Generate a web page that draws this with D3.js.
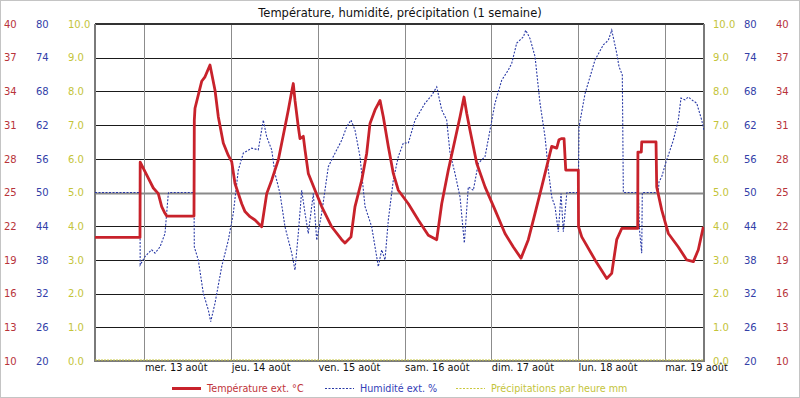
<!DOCTYPE html>
<html>
<head>
<meta charset="utf-8">
<script src="https://cdn.jsdelivr.net/npm/d3@7"></script>
<style>
  body { margin: 0; background: #fff; }
  svg { display: block; font-family: "DejaVu Sans", sans-serif; }
</style>
</head>
<body>
<div id="chart"></div>
<script>
// hours counted from mer. 13 août 00:00
const tempHours = [-13.70, -1.25, -1.19, 0.14, 2.44, 3.82, 4.76, 5.67, 6.15, 13.70, 13.79, 13.98, 15.83, 16.75, 18.13,
  19.52, 20.43, 21.81, 23.20, 24.14, 25.05, 26.91, 27.82, 29.20, 30.59, 32.44, 33.83, 35.21, 37.04, 38.89,
  39.81, 40.75, 41.19, 41.66, 42.57, 43.04, 43.96, 44.43, 45.34, 47.20, 49.05, 51.82, 54.59, 55.50, 57.16,
  58.27, 60.13, 61.51, 62.42, 63.81, 65.19, 66.10, 67.49, 68.87, 70.26, 73.03, 75.79, 78.56, 80.89, 82.27,
  84.10, 85.95, 87.34, 88.44, 89.19, 90.10, 91.96, 94.26, 97.02, 99.79, 102.09, 104.22, 106.24, 108.10, 109.95,
  112.25, 112.72, 114.10, 114.74, 115.49, 116.13, 116.60, 120.08, 120.14, 121.03, 124.71, 127.95, 129.33, 130.71, 132.10,
  136.52, 136.58, 137.52, 137.63, 141.59, 141.78, 143.16, 145.00, 147.76, 150.09, 151.92, 153.30, 154.69];
const tempValues = [21.0, 21.0, 27.7, 26.85, 25.4, 24.9, 23.75, 23.15, 22.9, 22.9, 31.45, 32.5, 34.9, 35.3, 36.35,
  34.1, 31.75, 29.4, 28.3, 27.75, 25.8, 24.0, 23.3, 22.85, 22.55, 21.95, 24.9, 26.1, 27.9, 30.85,
  32.35, 34.0, 34.7, 33.2, 30.85, 29.8, 30.0, 28.8, 26.7, 25.2, 23.75, 21.95, 20.8, 20.5, 21.05,
  23.75, 26.1, 28.5, 31.15, 32.35, 33.2, 31.75, 29.1, 26.7, 25.2, 24.0, 22.55, 21.2, 20.8, 24.0,
  27.0, 29.7, 31.75, 33.5, 32.05, 30.55, 27.6, 25.5, 23.45, 21.35, 20.15, 19.15, 20.8, 23.15, 25.5,
  28.5, 29.1, 28.95, 29.7, 29.8, 29.8, 27.0, 27.0, 21.95, 21.05, 19.0, 17.35, 17.8, 20.8, 21.8,
  21.8, 28.6, 28.6, 29.5, 29.5, 25.5, 23.45, 21.35, 20.15, 19.0, 18.85, 19.9, 21.95];

const humHours = [-13.70, -1.25, -1.19, 0.14, 1.99, 2.91, 4.29, 5.67, 6.59, 6.67, 13.70, 13.79, 14.89, 16.28, 17.66,
  18.33, 19.52, 21.37, 23.20, 24.58, 25.97, 27.35, 29.67, 31.50, 32.89, 33.83, 35.21, 36.12, 37.51, 38.89,
  40.75, 41.66, 42.57, 43.52, 44.43, 45.34, 46.73, 47.67, 49.05, 50.88, 52.73, 54.59, 55.97, 57.16, 58.27,
  59.65, 61.04, 62.89, 64.72, 65.66, 66.57, 67.49, 68.87, 70.26, 71.64, 73.03, 74.88, 77.65, 79.50, 80.89,
  82.27, 83.65, 84.57, 85.95, 87.34, 88.53, 89.63, 91.02, 92.40, 94.26, 95.64, 97.02, 98.88, 100.71, 101.65,
  103.03, 104.86, 105.52, 106.72, 108.10, 109.48, 110.87, 111.78, 112.72, 113.63, 114.55, 115.30, 115.93, 116.88, 116.96,
  120.08, 120.28, 121.94, 124.71, 127.01, 128.39, 129.33, 130.71, 131.35, 132.26, 132.54, 136.69, 137.02, 137.63, 137.79,
  142.22, 142.42, 143.16, 144.54, 146.38, 147.76, 148.50, 149.61, 150.53, 151.47, 152.85, 154.23, 154.87];
const humValues = [50, 50, 37.1, 38.6, 39.8, 39.2, 40.3, 42.7, 49.8, 50, 50, 40.3, 38.0, 32.05, 29.1,
  27.0, 30.3, 36.8, 41.5, 46.3, 54.0, 57.0, 57.9, 57.6, 62.9, 59.9, 57.6, 53.4, 49.8, 43.9,
  39.2, 36.2, 42.7, 50.4, 46.3, 42.7, 49.8, 41.5, 46.3, 54.6, 57.0, 59.3, 61.7, 62.9, 61.1,
  56.4, 47.5, 43.9, 36.8, 39.8, 38.0, 45.1, 52.2, 56.4, 58.8, 58.8, 62.9, 65.9, 67.3, 68.8,
  64.7, 62.9, 57.0, 53.4, 49.2, 41.0, 51.0, 50.4, 55.2, 56.4, 61.1, 65.9, 70.0, 71.8, 73.0,
  76.6, 77.7, 78.9, 77.4, 74.2, 65.9, 59.9, 54.0, 49.2, 47.5, 43.0, 49.8, 43.0, 49.8, 50,
  50, 61.7, 67.6, 73.6, 76.3, 77.1, 78.9, 74.8, 72.4, 70.9, 50, 50, 43.3, 39.2, 50,
  50, 51.9, 52.8, 55.8, 59.3, 62.9, 66.8, 66.5, 67.0, 66.5, 65.9, 62.9, 61.1];

const precipHours = [-13.70, 154.87];
const precipValues = [0, 0];

const dayLabels = ["mer. 13 août", "jeu. 14 août", "ven. 15 août", "sam. 16 août", "dim. 17 août", "lun. 18 août", "mar. 19 août"];
const tempTicks = [10, 13, 16, 19, 22, 25, 28, 31, 34, 37, 40];
const humTicks = [20, 26, 32, 38, 44, 50, 56, 62, 68, 74, 80];
const precipTicks = [0, 1, 2, 3, 4, 5, 6, 7, 8, 9, 10];

const legendItems = ["Température ext. °C", "Humidité ext. %", "Précipitations par heure mm"];

const width = 800, height = 398;
const plot = { left: 95, right: 704, top: 24, bottom: 361 };
const red = "#c8222b", blue = "#2a3aa6", yellow = "#c9c83c";

const t0 = new Date(2014, 7, 13, 0, 0);
const toDate = h => new Date(t0.getTime() + h * 3600e3);

const svg = d3.select("#chart").append("svg")
  .attr("width", width)
  .attr("height", height);

svg.append("rect")
  .attr("x", 0.5).attr("y", 0.5)
  .attr("width", width - 1).attr("height", height - 1)
  .attr("fill", "#fff").attr("stroke", "#c4c4c4");

// scales
const x = d3.scaleTime()
  .domain([toDate(-13.70), toDate(154.87)])
  .range([plot.left, plot.right]);
const yTemp = d3.scaleLinear().domain([10, 40]).range([plot.bottom, plot.top]);
const yHum = d3.scaleLinear().domain([20, 80]).range([plot.bottom, plot.top]);
const yPrecip = d3.scaleLinear().domain([0, 10]).range([plot.bottom, plot.top]);

// title
svg.append("text")
  .attr("x", 400).attr("y", 17)
  .attr("text-anchor", "middle")
  .attr("font-size", 11.5)
  .attr("fill", "#111")
  .text("Température, humidité, précipitation (1 semaine)");

// horizontal grid
svg.append("g").selectAll("line")
  .data(precipTicks)
  .join("line")
  .attr("x1", plot.left).attr("x2", plot.right)
  .attr("y1", d => Math.round(yPrecip(d)) + 0.5)
  .attr("y2", d => Math.round(yPrecip(d)) + 0.5)
  .attr("stroke", d => d === 5 ? "#8a8a8a" : "#1a1a1a")
  .attr("stroke-width", d => d === 5 ? 2 : 1);

// day lines
const days = dayLabels.map((d, i) => toDate(24 * i));
svg.append("g").selectAll("line")
  .data(days)
  .join("line")
  .attr("x1", d => Math.round(x(d)) + 0.5).attr("x2", d => Math.round(x(d)) + 0.5)
  .attr("y1", plot.top).attr("y2", plot.bottom)
  .attr("stroke", "#8c8c8c")
  .attr("stroke-width", 1);

// frame
svg.append("line")
  .attr("x1", plot.left).attr("x2", plot.right)
  .attr("y1", plot.top).attr("y2", plot.top)
  .attr("stroke", "#333").attr("stroke-width", 2);
svg.append("path")
  .attr("d", `M${plot.left},${plot.top}V${plot.bottom}H${plot.right}V${plot.top}`)
  .attr("fill", "none")
  .attr("stroke", "#7a7a7a")
  .attr("stroke-width", 2);

// x axis labels
const xAxis = d3.axisBottom(x)
  .tickValues(days)
  .tickSize(0)
  .tickPadding(0)
  .tickFormat((d, i) => dayLabels[i]);
const gx = svg.append("g")
  .attr("transform", `translate(0,${plot.bottom + 3})`)
  .call(xAxis);
gx.select(".domain").remove();
gx.selectAll("text")
  .attr("text-anchor", "start")
  .attr("dy", "0.71em")
  .attr("font-size", 9.8)
  .attr("font-family", "DejaVu Sans, sans-serif")
  .attr("fill", "#111");

// y axis label columns
function yColumn(scale, ticks, fmt, xpos, color) {
  const g = svg.append("g")
    .attr("transform", `translate(${xpos},0)`)
    .call(d3.axisRight(scale).tickValues(ticks).tickFormat(fmt).tickSize(0).tickPadding(0));
  g.select(".domain").remove();
  g.selectAll("text")
    .attr("font-size", 10)
    .attr("font-family", "DejaVu Sans, sans-serif")
    .attr("fill", color);
}
yColumn(yTemp, tempTicks, d3.format("d"), 4, "#b8333a");
yColumn(yHum, humTicks, d3.format("d"), 36, "#3340a8");
yColumn(yPrecip, precipTicks, d3.format(".1f"), 68, "#c4c43a");
yColumn(yPrecip, precipTicks, d3.format(".1f"), 713, "#c4c43a");
yColumn(yHum, humTicks, d3.format("d"), 744, "#3340a8");
yColumn(yTemp, tempTicks, d3.format("d"), 776, "#b8333a");

// series
svg.append("clipPath").attr("id", "clip")
  .append("rect")
  .attr("x", plot.left).attr("y", plot.top - 2)
  .attr("width", plot.right - plot.left).attr("height", plot.bottom - plot.top + 4);

const series = svg.append("g").attr("clip-path", "url(#clip)");

const precipLine = d3.line().x((d, i) => x(toDate(precipHours[i]))).y(d => yPrecip(d) - 1);
series.append("path")
  .attr("d", precipLine(precipValues))
  .attr("fill", "none")
  .attr("stroke", yellow)
  .attr("stroke-width", 1)
  .attr("stroke-dasharray", "2,1");

const humLine = d3.line().x((d, i) => x(toDate(humHours[i]))).y(d => yHum(d));
series.append("path")
  .attr("d", humLine(humValues))
  .attr("fill", "none")
  .attr("stroke", blue)
  .attr("stroke-width", 1.1)
  .attr("stroke-dasharray", "2,1.5");

const tempLine = d3.line().x((d, i) => x(toDate(tempHours[i]))).y(d => yTemp(d));
series.append("path")
  .attr("d", tempLine(tempValues))
  .attr("fill", "none")
  .attr("stroke", red)
  .attr("stroke-width", 2.8)
  .attr("stroke-linejoin", "round");

// legend
const legend = svg.append("g").attr("font-size", 9.6);
const legendX = [172, 325, 456];
const legendColors = [red, blue, yellow];
const legendText = ["#c0333a", "#3340b8", "#c4c43a"];
legendItems.forEach((name, i) => {
  const ln = legend.append("line")
    .attr("x1", legendX[i]).attr("x2", legendX[i] + 29)
    .attr("y1", 388.5).attr("y2", 388.5)
    .attr("stroke", legendColors[i]);
  if (i === 0) ln.attr("stroke-width", 3);
  else ln.attr("stroke-width", 1.2).attr("stroke-dasharray", "2,1.5");
  legend.append("text")
    .attr("x", legendX[i] + 35).attr("y", 388.5)
    .attr("dy", "0.35em")
    .attr("fill", legendText[i])
    .text(name);
});
</script>
</body>
</html>
